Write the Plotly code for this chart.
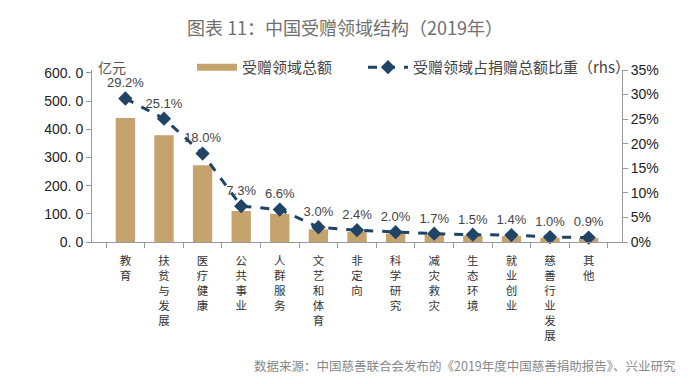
import plotly.graph_objects as go

categories = ["教育", "扶贫与发展", "医疗健康", "公共事业", "人群服务", "文艺和体育", "非定向",
              "科学研究", "减灾救灾", "生态环境", "就业创业", "慈善行业发展", "其他"]
amounts = [440, 379, 272, 110, 100, 45, 36, 30, 26, 23, 21, 15, 14]
shares = [0.292, 0.251, 0.180, 0.073, 0.066, 0.030, 0.024, 0.020, 0.017, 0.015, 0.014, 0.010, 0.009]
share_labels = ["29.2%", "25.1%", "18.0%", "7.3%", "6.6%", "3.0%", "2.4%", "2.0%", "1.7%", "1.5%",
                "1.4%", "1.0%", "0.9%"]
left_ticks = [0, 100, 200, 300, 400, 500, 600]
left_tick_text = ["0. 0", "100. 0", "200. 0", "300. 0", "400. 0", "500. 0", "600. 0"]
right_ticks = [0, 0.05, 0.10, 0.15, 0.20, 0.25, 0.30, 0.35]
right_tick_text = ["0%", "5%", "10%", "15%", "20%", "25%", "30%", "35%"]

vert_labels = ["<br>".join(list(c)) for c in categories]

CJK = "Noto Sans CJK SC"
bar_color = "#C6A26C"
line_color = "#1F4466"

fig = go.Figure()
fig.add_trace(go.Bar(
    x=vert_labels, y=amounts, name="受赠领域总额", showlegend=False,
    marker=dict(color=bar_color, line=dict(width=0)), width=0.5,
))
# legend entry for the bars drawn as a wide flat swatch
fig.add_trace(go.Scatter(
    x=[None], y=[None], name="受赠领域总额", mode="lines",
    line=dict(color=bar_color, width=7), legend="legend",
))
fig.add_trace(go.Scatter(
    x=vert_labels, y=shares, name="受赠领域占捐赠总额比重（rhs）", yaxis="y2",
    mode="lines+markers+text", legend="legend2",
    line=dict(color=line_color, width=3, dash="dash"),
    marker=dict(symbol="diamond", size=11, color=line_color),
    text=share_labels, textposition="top center",
    textfont=dict(family="Liberation Sans", size=13, color="#444"),
    cliponaxis=False,
))

legend_font = dict(family=CJK, size=15, color="#444")
fig.update_layout(
    width=700, height=384,
    margin=dict(l=92, r=78, t=70, b=142, autoexpand=False),
    paper_bgcolor="white", plot_bgcolor="white",
    title=dict(text="图表 11：中国受赠领域结构（2019年）", x=0.493, xanchor="center",
               y=0.925, yanchor="middle",
               font=dict(family=CJK, size=18, color="#707070")),
    showlegend=True,
    legend=dict(orientation="h", x=(192 - 92) / 530, xanchor="left", y=1.015, yanchor="middle",
                font=legend_font, bgcolor="rgba(0,0,0,0)", itemwidth=40),
    legend2=dict(orientation="h", x=(363 - 92) / 530, xanchor="left", y=1.015, yanchor="middle",
                 font=legend_font, bgcolor="rgba(0,0,0,0)", itemwidth=40),
    xaxis=dict(type="category", showline=True, linecolor="#999", linewidth=1,
               ticks="outside", tickson="boundaries", ticklen=5, tickcolor="#999",
               tickfont=dict(family=CJK, size=11.5, color="#333"), tickangle=0,
               ticklabelstandoff=8,
               showgrid=False, automargin=False),
    yaxis=dict(range=[0, 610], tickvals=left_ticks, ticktext=left_tick_text,
               showline=True, linecolor="#999", ticks="outside", ticklen=5, tickcolor="#999",
               tickfont=dict(family="Liberation Sans", size=14, color="#222"),
               showgrid=False, zeroline=False, automargin=False),
    yaxis2=dict(range=[0, 0.35], tickvals=right_ticks, ticktext=right_tick_text,
                overlaying="y", side="right",
                showline=True, linecolor="#999", ticks="outside", ticklen=5, tickcolor="#999",
                tickfont=dict(family="Liberation Sans", size=14, color="#222"),
                showgrid=False, zeroline=False, automargin=False),
    bargap=0.5,
)

fig.add_annotation(text="亿元", xref="paper", yref="paper", x=0.008, y=1.015, xanchor="left",
                   yanchor="middle", showarrow=False,
                   font=dict(family=CJK, size=14, color="#555"))
fig.add_annotation(text="数据来源：中国慈善联合会发布的《2019年度中国慈善捐助报告》、兴业研究",
                   xref="paper", yref="paper", x=1.106, y=-0.72, xanchor="right",
                   yanchor="middle", showarrow=False,
                   font=dict(family=CJK, size=12.5, color="#888"))

fig.write_html("out.html", config={"displayModeBar": False},
               post_script="document.body.style.margin='0';")
